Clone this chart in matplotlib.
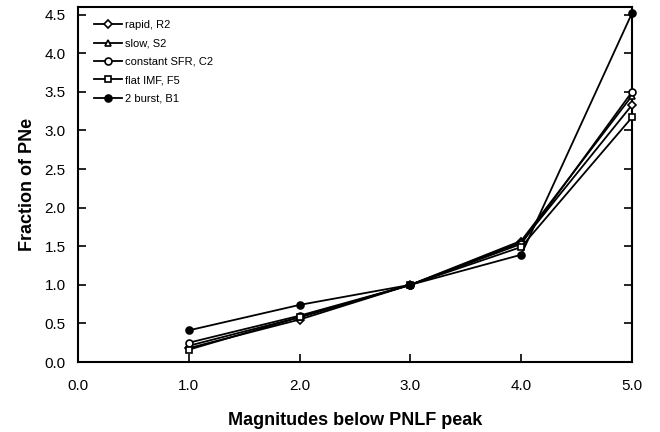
import matplotlib
matplotlib.use("Agg")
import matplotlib.pyplot as plt
from matplotlib.ticker import MultipleLocator

plt.rcParams['font.family'] = ['Liberation Sans', 'DejaVu Sans']

mags = [1.0, 2.0, 3.0, 4.0, 5.0]
rapid = [0.18, 0.55, 1.0, 1.55, 3.33]
slow = [0.21, 0.58, 1.0, 1.57, 3.45]
const_sfr = [0.25, 0.60, 1.0, 1.53, 3.50]
flat_imf = [0.16, 0.58, 1.0, 1.49, 3.17]
burst2 = [0.41, 0.74, 1.0, 1.39, 4.52]

labels = ['rapid, R2', 'slow, S2', 'constant SFR, C2', 'flat IMF, F5', '2 burst, B1']
markers = ['D', '^', 'o', 's', 'o']
fills = ['white', 'white', 'white', 'white', 'black']
sizes = [4, 5, 5, 5, 5]

fig = plt.figure(figsize=(6.6, 4.32), dpi=100)
ax = fig.add_axes([78 / 660, 1 - 362 / 432, (632 - 78) / 660, (362 - 7) / 432])

for ys, lab, m, fc, ms in zip([rapid, slow, const_sfr, flat_imf, burst2], labels, markers, fills, sizes):
    ax.plot(mags, ys, color='black', lw=1.3, marker=m, mfc=fc, mec='black',
            mew=1.2, ms=ms, label=lab, clip_on=False, zorder=3)

ax.set_xlim(0, 5)
ax.set_ylim(0, 4.6)
ax.xaxis.set_major_locator(MultipleLocator(1.0))
ax.yaxis.set_major_locator(MultipleLocator(0.5))
ax.xaxis.set_major_formatter(plt.FormatStrFormatter('%.1f'))
ax.yaxis.set_major_formatter(plt.FormatStrFormatter('%.1f'))
ax.tick_params(direction='in', length=6, width=1.2, labelsize=11,
               right=True, top=False)
ax.tick_params(axis='x', pad=12)
ax.tick_params(axis='y', pad=9)
for s in ax.spines.values():
    s.set_linewidth(1.5)

ax.set_xlabel('Magnitudes below PNLF peak', fontsize=13, fontweight='bold', labelpad=14)
ax.set_ylabel('Fraction of PNe', fontsize=13, fontweight='bold', labelpad=6)

ax.legend(loc='upper left', frameon=False, fontsize=8, handlelength=2.6,
          handletextpad=0.2, labelspacing=0.75, borderaxespad=0.0,
          bbox_to_anchor=(0.02, 0.975))

fig.savefig('out.png', dpi=100)
